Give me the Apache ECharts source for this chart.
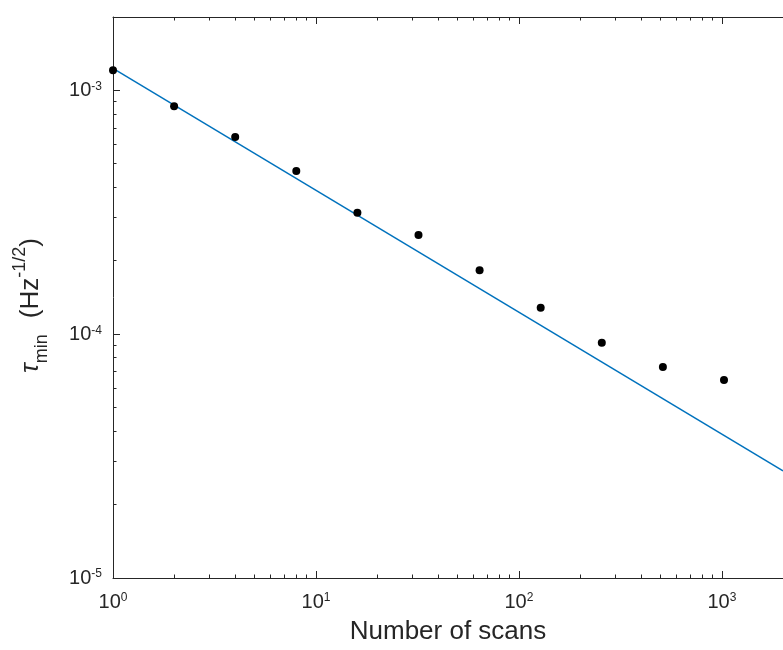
<!DOCTYPE html>
<html lang="en">
<head>
    <meta charset="UTF-8">
    <title>tau min vs number of scans</title>
    <style>
        html,body{
            padding: 0;margin: 0;background: #fff;
        }
        #chart{
            width: 783px;height: 650px;
        }
    </style>
    <script src="https://cdn.jsdelivr.net/npm/echarts@6/dist/echarts.min.js"></script>
</head>
<body>
<div id="chart"></div>
<script>
    // measured points
    var scanCounts = [1, 2, 4, 8, 16, 32, 64, 128, 256, 512, 1024];
    var tauMin = [1.21e-3, 8.61e-4, 6.44e-4, 4.67e-4, 3.15e-4, 2.55e-4, 1.83e-4, 1.285e-4, 9.22e-5, 7.33e-5, 6.49e-5];

    // fitted line (end points)
    var fitScans = [1, 2000];
    var fitTau = [1.23e-3, 2.75e-5];

    // axis ranges and minor ticks
    var xRange = [1, 2000];
    var yRange = [1e-5, 2e-3];
    var xMinorTicks = [2, 3, 4, 5, 6, 7, 8, 9, 20, 30, 40, 50, 60, 70, 80, 90, 200, 300, 400, 500, 600, 700, 800, 900];
    var yMinorTicks = [2e-5, 3e-5, 4e-5, 5e-5, 6e-5, 7e-5, 8e-5, 9e-5, 2e-4, 3e-4, 4e-4, 5e-4, 6e-4, 7e-4, 8e-4, 9e-4];

    var axisColor = '#262626';
    var font = '"Liberation Sans", Arial, Helvetica, sans-serif';

    function pairs(xs, ys){
        var out = [];
        for(var i = 0; i < xs.length; i++){
            out.push([xs[i], ys[i]]);
        }
        return out;
    }

    function powLabel(value){
        var e = Math.log10(value);
        var r = Math.round(e);
        if(Math.abs(e - r) > 1e-6) return '';
        return '{b|10}{s|' + r + '}';
    }

    var labelRich = {
        b: {fontSize: 20, lineHeight: 20, color: axisColor, fontFamily: font},
        s: {fontSize: 12, lineHeight: 9, verticalAlign: 'top', color: axisColor, fontFamily: font}
    };

    function snap(v){
        return Math.round(v - 0.5) + 0.5;
    }

    function renderXMinor(params, api){
        var v = api.value(0);
        var b = api.coord([v, yRange[0]]);
        var t = api.coord([v, yRange[1]]);
        var x = snap(b[0]);
        var st = {stroke: axisColor, lineWidth: 1};
        return {
            type: 'group',
            children: [
                {type: 'line', shape: {x1: x, y1: b[1], x2: x, y2: b[1] - 3.5}, style: st},
                {type: 'line', shape: {x1: x, y1: t[1], x2: x, y2: t[1] + 3.5}, style: st}
            ]
        };
    }

    function renderYMinor(params, api){
        var v = api.value(1);
        var p = api.coord([xRange[0], v]);
        var y = snap(p[1]);
        return {
            type: 'line',
            shape: {x1: p[0], y1: y, x2: p[0] + 3.5, y2: y},
            style: {stroke: axisColor, lineWidth: 1}
        };
    }

    var myChart = echarts.init(document.getElementById('chart'));

    var axisCommon = {
        type: 'log',
        logBase: 10,
        axisLine: {show: true, lineStyle: {color: axisColor, width: 1}},
        axisTick: {show: true, inside: true, length: 7, lineStyle: {color: axisColor, width: 1}},
        splitLine: {show: false},
        minorTick: {show: false},
        minorSplitLine: {show: false}
    };

    var option = {
        animation: false,
        backgroundColor: '#fff',
        grid: {left: 113, top: 17, right: -5, bottom: 67},
        xAxis: [
            echarts.util.merge({
                min: xRange[0],
                max: xRange[1],
                position: 'bottom',
                name: 'Number of scans',
                nameLocation: 'middle',
                nameGap: 41,
                nameTextStyle: {fontSize: 26, color: axisColor, fontFamily: font},
                axisLabel: {
                    margin: 14,
                    formatter: powLabel,
                    showMaxLabel: false,
                    rich: labelRich
                }
            }, axisCommon, false),
            echarts.util.merge({
                min: xRange[0],
                max: xRange[1],
                position: 'top',
                axisLabel: {show: false}
            }, axisCommon, false)
        ],
        yAxis: [
            echarts.util.merge({
                min: yRange[0],
                max: yRange[1],
                position: 'left',
                name: '{t|τ}{sub|min}{sp| }{n|(Hz}{sup|-1/2}{n|)}',
                nameLocation: 'middle',
                nameRotate: 90,
                nameGap: 62,
                nameTextStyle: {
                    color: axisColor,
                    padding: [0, 16, 0, 0],
                    rich: {
                        t: {fontSize: 26, lineHeight: 40, fontStyle: 'italic', color: axisColor, fontFamily: font},
                        sub: {fontSize: 18, lineHeight: 17, verticalAlign: 'bottom', color: axisColor, fontFamily: font},
                        sp: {fontSize: 26, lineHeight: 40, width: 16},
                        n: {fontSize: 26, lineHeight: 40, color: axisColor, fontFamily: font},
                        sup: {fontSize: 18, lineHeight: 33, verticalAlign: 'top', color: axisColor, fontFamily: font}
                    }
                },
                axisLabel: {
                    margin: 11,
                    formatter: powLabel,
                    showMaxLabel: false,
                    rich: labelRich
                }
            }, axisCommon, false)
        ],
        series: [
            {
                name: 'fit',
                type: 'line',
                data: pairs(fitScans, fitTau),
                symbol: 'none',
                lineStyle: {color: '#0072BD', width: 1.5},
                z: 3
            },
            {
                name: 'data',
                type: 'scatter',
                data: pairs(scanCounts, tauMin),
                symbol: 'circle',
                symbolSize: 8,
                itemStyle: {color: '#000', opacity: 1},
                z: 4
            },
            {
                name: 'xminor',
                type: 'custom',
                renderItem: renderXMinor,
                data: xMinorTicks.map(function(v){ return [v, yRange[0]]; }),
                silent: true,
                z: 5
            },
            {
                name: 'yminor',
                type: 'custom',
                renderItem: renderYMinor,
                data: yMinorTicks.map(function(v){ return [xRange[0], v]; }),
                silent: true,
                z: 5
            }
        ]
    };
    myChart.setOption(option);
</script>
</body>
</html>
